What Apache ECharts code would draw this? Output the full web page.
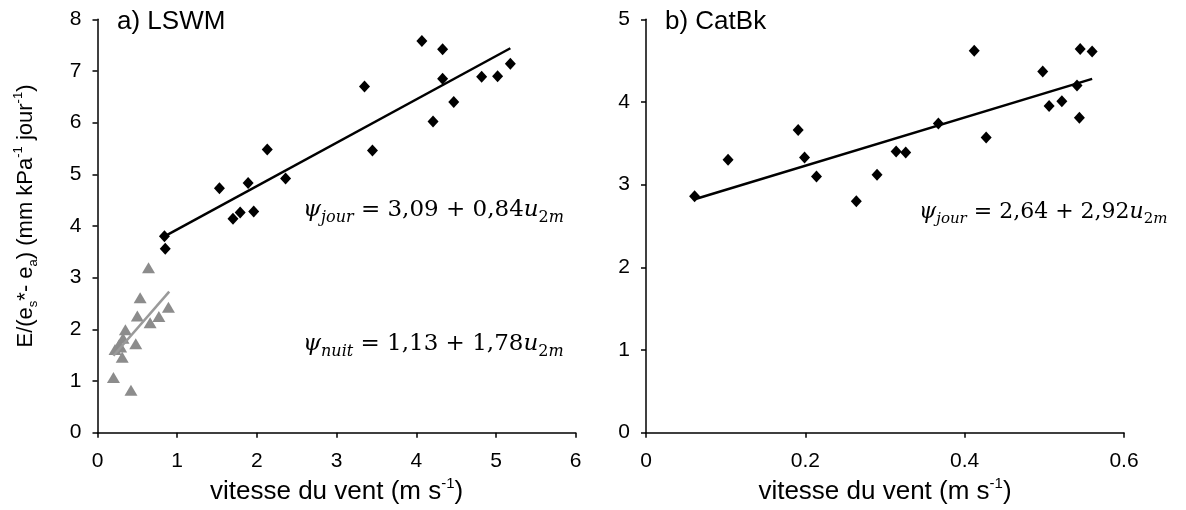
<!DOCTYPE html>
<html>
<head>
<meta charset="utf-8">
<script src="https://cdn.jsdelivr.net/npm/echarts@6/dist/echarts.min.js"></script>
<style>
  html, body { margin: 0; padding: 0; background: #fff; }
  #chart { width: 1186px; height: 510px; }
</style>
</head>
<body>
<div id="chart"></div>
<script>
// ---- Data ----
// a) LSWM, day (jour) points: [wind speed, E/(es*-ea)]
var lswmJourX = [4.07, 4.33, 5.18, 4.33, 4.82, 5.02, 3.35, 4.47, 4.21, 2.13, 3.45, 1.53, 1.89, 2.36, 1.70, 1.79, 1.96, 0.84, 0.85];
var lswmJourY = [7.58, 7.42, 7.14, 6.85, 6.89, 6.90, 6.70, 6.40, 6.02, 5.48, 5.46, 4.73, 4.83, 4.92, 4.14, 4.26, 4.28, 3.80, 3.56];
// a) LSWM, night (nuit) points
var lswmNuitX = [0.64, 0.535, 0.50, 0.89, 0.77, 0.66, 0.35, 0.32, 0.48, 0.27, 0.22, 0.29, 0.31, 0.20, 0.42];
var lswmNuitY = [3.19, 2.61, 2.26, 2.43, 2.25, 2.13, 1.99, 1.83, 1.72, 1.70, 1.61, 1.66, 1.46, 1.07, 0.82];
// Fitted lines (end points)
var lswmJourFitX = [0.84, 5.18];
var lswmJourFitY = [3.80, 7.44];
var lswmNuitFitX = [0.20, 0.90];
var lswmNuitFitY = [1.49, 2.73];
// b) CatBk points
var catbkX = [0.061, 0.103, 0.191, 0.199, 0.214, 0.264, 0.290, 0.314, 0.326, 0.367, 0.412, 0.427, 0.498, 0.506, 0.522, 0.541, 0.544, 0.545, 0.560];
var catbkY = [2.86, 3.30, 3.66, 3.33, 3.10, 2.80, 3.12, 3.40, 3.39, 3.74, 4.62, 3.57, 4.37, 3.95, 4.01, 4.20, 3.81, 4.64, 4.61];
var catbkFitX = [0.06, 0.56];
var catbkFitY = [2.82, 4.28];
// Axis ranges / ticks
var leftXTicks = [0, 1, 2, 3, 4, 5, 6];
var leftYTicks = [0, 1, 2, 3, 4, 5, 6, 7, 8];
var rightXTicks = [0, 0.2, 0.4, 0.6];
var rightYTicks = [0, 1, 2, 3, 4, 5];
// Texts
var titleA = 'a) LSWM';
var titleB = 'b) CatBk';

function pairs(xs, ys) { return xs.map(function (x, i) { return [x, ys[i]]; }); }

var SANS = 'Liberation Sans, Arial, sans-serif';
var SERIF = 'DejaVu Serif, serif';
var AX = { lineStyle: { color: '#000', width: 1.5 } };
var TICK = { show: true, inside: false, length: 5, lineStyle: { color: '#000', width: 1.5 } };
var LBL = { color: '#000', fontSize: 21, fontFamily: SANS };

var xName = '{n|vitesse du vent (m s}{sup|-1}{n|)}';
var nameRich = {
  n: { fontSize: 26, fontFamily: SANS, color: '#000', lineHeight: 30 },
  sup: { fontSize: 15, fontFamily: SANS, color: '#000', verticalAlign: 'top', lineHeight: 17 },
  sub: { fontSize: 15, fontFamily: SANS, color: '#000', verticalAlign: 'bottom', lineHeight: 17 }
};
var yName = '{n|E/(e}{sub|s}{n|*- e}{sub|a}{n|) (mm kPa}{sup|-1}{n| jour}{sup|-1}{n|)}';
var yRich = {
  n: { fontSize: 22, fontFamily: SANS, color: '#000', lineHeight: 28 },
  sup: { fontSize: 13, fontFamily: SANS, color: '#000', verticalAlign: 'top', lineHeight: 15 },
  sub: { fontSize: 13, fontFamily: SANS, color: '#000', verticalAlign: 'bottom', lineHeight: 15 }
};

function eqStyle(fs) {
  var sf = Math.round(fs * 0.68);
  return {
    i: { fontSize: fs, fontFamily: SERIF, fontStyle: 'italic', color: '#000', lineHeight: fs + 8 },
    r: { fontSize: fs, fontFamily: SERIF, color: '#000', lineHeight: fs + 8 },
    isub: { fontSize: sf, fontFamily: SERIF, fontStyle: 'italic', color: '#000', verticalAlign: 'bottom', lineHeight: sf + 5 },
    nsub: { fontSize: sf, fontFamily: SERIF, color: '#000', verticalAlign: 'bottom', lineHeight: sf + 5 }
  };
}
function eq(sub, txt) {
  return '{i|ψ}{isub|' + sub + '}{r| = ' + txt + '}{i|u}{nsub|2}{isub|m}';
}

var chart = echarts.init(document.getElementById('chart'), null, { renderer: 'canvas' });
var option = {
  animation: false,
  backgroundColor: '#fff',
  title: [
    { text: titleA, left: 117, top: 9, padding: 0, textStyle: { fontSize: 26, fontWeight: 'normal', fontFamily: SANS, color: '#000' } },
    { text: titleB, left: 665, top: 9, padding: 0, textStyle: { fontSize: 26, fontWeight: 'normal', fontFamily: SANS, color: '#000' } }
  ],
  grid: [
    { left: 97.5, right: 610.3, top: 19.3, bottom: 77.3 },
    { left: 646, right: 62, top: 19.3, bottom: 77.3 }
  ],
  xAxis: [
    { gridIndex: 0, type: 'value', min: leftXTicks[0], max: leftXTicks[leftXTicks.length - 1], interval: 1,
      axisLine: AX, axisTick: TICK, splitLine: { show: false },
      axisLabel: Object.assign({ margin: 18 }, LBL),
      name: xName, nameLocation: 'middle', nameGap: 44, nameTextStyle: { rich: nameRich } },
    { gridIndex: 1, type: 'value', min: rightXTicks[0], max: rightXTicks[rightXTicks.length - 1], interval: 0.2,
      axisLine: AX, axisTick: TICK, splitLine: { show: false },
      axisLabel: Object.assign({ margin: 18, formatter: function (v) { return v === 0 ? '0' : (+v).toFixed(1); } }, LBL),
      name: xName, nameLocation: 'middle', nameGap: 44, nameTextStyle: { rich: nameRich } }
  ],
  yAxis: [
    { gridIndex: 0, type: 'value', min: leftYTicks[0], max: leftYTicks[leftYTicks.length - 1], interval: 1,
      axisLine: AX, axisTick: TICK, splitLine: { show: false },
      axisLabel: Object.assign({ margin: 16 }, LBL),
      name: yName, nameLocation: 'middle', nameRotate: 90, nameGap: 58,
      nameTextStyle: { rich: yRich, padding: [0, 0, 0, 20] } },
    { gridIndex: 1, type: 'value', min: rightYTicks[0], max: rightYTicks[rightYTicks.length - 1], interval: 1,
      axisLine: AX, axisTick: TICK, splitLine: { show: false },
      axisLabel: Object.assign({ margin: 16 }, LBL) }
  ],
  graphic: [
    { type: 'text', left: 303, top: 199, style: { text: eq('jour', '3,09 + 0,84'), rich: eqStyle(23) } },
    { type: 'text', left: 303, top: 333, style: { text: eq('nuit', '1,13 + 1,78'), rich: eqStyle(23) } },
    { type: 'text', left: 919, top: 201, style: { text: eq('jour', '2,64 + 2,92'), rich: eqStyle(22) } }
  ],
  series: [
    { type: 'scatter', xAxisIndex: 0, yAxisIndex: 0, data: pairs(lswmNuitX, lswmNuitY),
      symbol: 'triangle', symbolSize: [13, 11], itemStyle: { color: '#8c8c8c', opacity: 1 }, z: 2 },
    { type: 'line', xAxisIndex: 0, yAxisIndex: 0, data: pairs(lswmNuitFitX, lswmNuitFitY),
      symbol: 'none', lineStyle: { color: '#9a9a9a', width: 2.5 }, z: 3 },
    { type: 'scatter', xAxisIndex: 0, yAxisIndex: 0, data: pairs(lswmJourX, lswmJourY),
      symbol: 'diamond', symbolSize: [11, 12], itemStyle: { color: '#000', opacity: 1 }, z: 2 },
    { type: 'line', xAxisIndex: 0, yAxisIndex: 0, data: pairs(lswmJourFitX, lswmJourFitY),
      symbol: 'none', lineStyle: { color: '#000', width: 2.5 }, z: 3 },
    { type: 'scatter', xAxisIndex: 1, yAxisIndex: 1, data: pairs(catbkX, catbkY),
      symbol: 'diamond', symbolSize: [11, 12], itemStyle: { color: '#000', opacity: 1 }, z: 2 },
    { type: 'line', xAxisIndex: 1, yAxisIndex: 1, data: pairs(catbkFitX, catbkFitY),
      symbol: 'none', lineStyle: { color: '#000', width: 2.5 }, z: 3 }
  ]
};
chart.setOption(option);
</script>
</body>
</html>
